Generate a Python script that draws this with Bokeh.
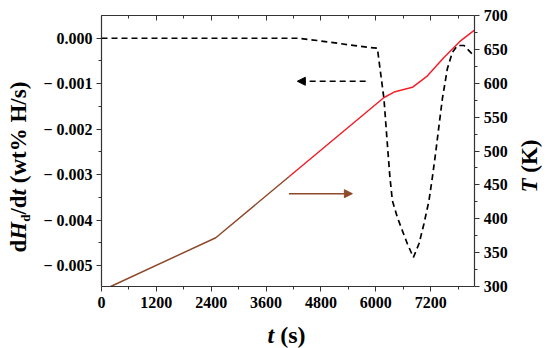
import math
from bokeh.plotting import figure
from bokeh.models import (Range1d, LinearAxis, FixedTicker, Label, Arrow, NormalHead,
                          CustomJSTickFormatter)
from bokeh.embed import file_html
from bokeh.resources import INLINE

# ---------------- data ----------------
t_T = [200, 2500, 4100, 6180, 6400, 6800, 7130, 7490, 7860, 8150]
T_K = [300, 372, 462, 579, 587, 594, 611, 638, 663, 678]

t_H = [0, 4290, 4720, 5670, 6034, 6178, 6266, 6309, 6362, 6471, 6580, 6690,
       6822, 6944, 7053, 7163, 7237, 7310, 7382, 7456, 7565, 7675, 7785, 7929, 8120]
dHdt = [0, 0, -0.00005, -0.00018, -0.00022, -0.00133, -0.00251, -0.00306, -0.00357,
        -0.00394, -0.00423, -0.00452, -0.00482, -0.00452, -0.00408, -0.00357, -0.00306,
        -0.00251, -0.00192, -0.00133, -0.00067, -0.00031, -0.00016, -0.00016, -0.00036]

arrow_left_t = [5778, 4283]
arrow_left_y = [-0.000946, -0.000946]
arrow_right_t = [4099, 5487]
arrow_right_y = [437, 437]

x_ticks = [0, 1200, 2400, 3600, 4800, 6000, 7200]
x_minor = [600, 1800, 3000, 4200, 5400, 6600, 7800]
y_ticks = [0.0, -0.001, -0.002, -0.003, -0.004, -0.005]
y_minor = [-0.0005, -0.0015, -0.0025, -0.0035, -0.0045]
T_ticks = [300, 350, 400, 450, 500, 550, 600, 650, 700]
T_minor = [325, 375, 425, 475, 525, 575, 625, 675]

X0, X1 = 0, 8165
Y0, Y1 = -0.00546, 0.0005
T0, T1 = 300, 700

# ---------------- layout (pixels) ----------------
W, H = 550, 348
BOX_L, BOX_R, BOX_T, BOX_B = 101, 474.3, 15, 286

FONT = "Liberation Serif"
AX = "#333333"
RED = "#F2202A"
BROWN = "#8E4A2A"

sx = (BOX_R - BOX_L) / (X1 - X0)
sy = (BOX_B - BOX_T) / (Y1 - Y0)
sT = (BOX_B - BOX_T) / (T1 - T0)
xr = Range1d(X0 - BOX_L / sx, X1 + (W - BOX_R) / sx)
yr = Range1d(Y0 - (H - BOX_B) / sy, Y1 + BOX_T / sy)
Tr = Range1d(T0 - (H - BOX_B) / sT, T1 + BOX_T / sT)

p = figure(width=W, height=H, output_backend="svg", toolbar_location=None,
           x_range=xr, y_range=yr,
           min_border_left=0, min_border_right=0, min_border_top=0, min_border_bottom=0)
p.grid.visible = False
p.outline_line_color = None
p.extra_y_ranges = {"T": Tr}

def style(ax):
    ax.axis_line_color = AX
    ax.axis_line_width = 1.2
    ax.major_tick_line_color = AX
    ax.minor_tick_line_color = AX
    ax.major_tick_out = 5
    ax.major_tick_in = 0
    ax.minor_tick_out = 3
    ax.minor_tick_in = 0
    ax.major_label_text_font = FONT
    ax.major_label_text_font_style = "bold"
    ax.major_label_text_font_size = "16px"
    ax.major_label_text_color = "black"

xa = p.xaxis[0]
xa.ticker = FixedTicker(ticks=x_ticks, minor_ticks=x_minor)
style(xa)
xa.major_label_standoff = 5
xa.fixed_location = Y0
xa.bounds = (X0, X1)

ya = p.yaxis[0]
ya.ticker = FixedTicker(ticks=y_ticks, minor_ticks=y_minor)
ya.formatter = CustomJSTickFormatter(
    code="return Math.abs(tick) < 1e-9 ? '0.000' : '\u2212 ' + Math.abs(tick).toFixed(3);")
style(ya)
ya.major_label_standoff = 4
ya.fixed_location = X0
ya.bounds = (Y0, Y1)

ra = LinearAxis(y_range_name="T", ticker=FixedTicker(ticks=T_ticks, minor_ticks=T_minor))
style(ra)
ra.major_label_standoff = 4
ra.fixed_location = X1
ra.bounds = (T0, T1)
p.add_layout(ra, "right")

ta = LinearAxis(ticker=FixedTicker(ticks=x_ticks, minor_ticks=x_minor))
style(ta)
ta.major_tick_out = 0
ta.major_tick_in = 5
ta.minor_tick_out = 0
ta.minor_tick_in = 3
ta.formatter = CustomJSTickFormatter(code="return '';")
ta.major_label_standoff = 0
ta.fixed_location = Y1
ta.bounds = (X0, X1)
p.add_layout(ta, "above")

p.line(t_H, dHdt, line_color="black", line_width=1.7, line_dash="6 4")
p.line(t_T[:3], T_K[:3], y_range_name="T", line_color=BROWN, line_width=1.5)
p.line(t_T[2:], T_K[2:], y_range_name="T", line_color=RED, line_width=1.5)

p.add_layout(Arrow(end=NormalHead(size=8, fill_color="black", line_color="black"),
                   x_start=arrow_left_t[0], y_start=arrow_left_y[0],
                   x_end=arrow_left_t[1], y_end=arrow_left_y[1],
                   line_color="black", line_width=1.7, line_dash="6 4"))
p.add_layout(Arrow(end=NormalHead(size=8, fill_color=BROWN, line_color=BROWN),
                   x_start=arrow_right_t[0], y_start=arrow_right_y[0],
                   x_end=arrow_right_t[1], y_end=arrow_right_y[1],
                   y_range_name="T", line_color=BROWN, line_width=1.5))

def lab(text, x, y, size, style_, angle=0.0):
    # x, y in canvas pixels from the top-left corner
    p.add_layout(Label(x=x, y=H - y, x_units="screen", y_units="screen", text=text,
                       angle=angle, text_font=FONT, text_font_style=style_,
                       text_font_size=f"{size}px", text_color="black",
                       text_align="left", text_baseline="alphabetic"))

F = 23
S = 13
SP = 0.25 * F
bx = 18.0
y0 = 252.0
lab("d", bx, y0, F, "bold", math.pi / 2)
y0 -= 0.556 * F
lab("H", bx, y0, F, "bold italic", math.pi / 2)
y0 -= 0.778 * F
lab("d", bx + 7.0, y0, S, "bold", math.pi / 2)
y0 -= 0.556 * S
lab("/d", bx, y0, F, "bold", math.pi / 2)
y0 -= (0.278 + 0.556) * F
lab("t", bx, y0, F, "bold italic", math.pi / 2)
y0 -= 0.278 * F + SP
lab("(wt% H/s)", bx, y0, F, "bold", math.pi / 2)

tx = 529.0
lab("T", tx, 192, 23, "bold italic", math.pi / 2)
lab("(K)", tx, 192 - 0.611 * 23 - 0.25 * 23, 23, "bold", math.pi / 2)

lab("t", 267, 334, 24, "bold italic")
lab("(s)", 267 + 0.278 * 24 + 0.25 * 24, 334, 24, "bold")

open("out.html", "w").write(file_html(p, INLINE))
